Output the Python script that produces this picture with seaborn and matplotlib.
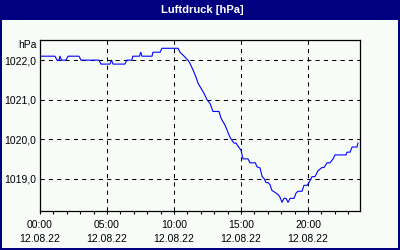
import matplotlib
matplotlib.use("Agg")
import matplotlib.pyplot as plt
from matplotlib.patches import Rectangle
import seaborn as sns
import pandas as pd

# time in hours since 00:00, pressure in hPa
hours = [0.00, 1.12, 1.27, 1.42, 1.49, 1.60, 1.94, 2.09, 2.91, 3.06, 4.40, 4.55,
         5.22, 5.34, 5.45, 6.33, 6.48, 6.85, 6.93, 7.42, 7.52, 7.60, 7.75, 8.36,
         8.43, 8.96, 9.10, 10.30, 10.45, 10.75, 11.04, 11.19, 11.42, 11.64, 11.79,
         12.01, 12.24, 12.46, 12.69, 12.91, 13.36, 13.51, 13.81, 13.96, 14.11,
         14.26, 14.48, 14.63, 14.78, 15.00, 15.15, 15.52, 15.67, 16.07, 16.19,
         16.42, 16.57, 16.72, 16.87, 17.01, 17.16, 17.31, 17.54, 17.76, 17.91,
         18.06, 18.21, 18.36, 18.51, 18.66, 18.96, 19.10, 19.25, 19.55, 19.70,
         19.93, 20.07, 20.30, 20.52, 20.75, 21.04, 21.19, 21.42, 21.64, 21.87,
         22.01, 22.84, 22.91, 23.14, 23.29, 23.66, 23.73]
pressure = [1022.1, 1022.1, 1022.0, 1022.0, 1022.1, 1022.0, 1022.0, 1022.1, 1022.1, 1022.0, 1022.0, 1021.9,
            1021.9, 1022.0, 1021.9, 1021.9, 1022.0, 1022.0, 1022.1, 1022.1, 1022.2, 1022.1, 1022.1, 1022.1,
            1022.2, 1022.2, 1022.3, 1022.3, 1022.2, 1022.1, 1022.0, 1021.92, 1021.75, 1021.57, 1021.42,
            1021.29, 1021.16, 1021.0, 1020.9, 1020.7, 1020.7, 1020.53, 1020.35, 1020.23, 1020.1,
            1020.0, 1019.9, 1019.9, 1019.82, 1019.72, 1019.5, 1019.5, 1019.4, 1019.4, 1019.3,
            1019.27, 1019.06, 1019.0, 1018.9, 1018.9, 1018.85, 1018.7, 1018.65, 1018.6, 1018.53,
            1018.4, 1018.5, 1018.5, 1018.4, 1018.5, 1018.5, 1018.63, 1018.68, 1018.68, 1018.83,
            1018.83, 1018.9, 1019.05, 1019.05, 1019.2, 1019.28, 1019.28, 1019.4, 1019.4, 1019.5,
            1019.6, 1019.6, 1019.67, 1019.67, 1019.8, 1019.8, 1019.9]

tick_hours = [0, 5, 10, 15, 20]
tick_labels = ["00:00\n12.08.22", "05:00\n12.08.22", "10:00\n12.08.22",
               "15:00\n12.08.22", "20:00\n12.08.22"]
y_ticks = [1019.0, 1020.0, 1021.0, 1022.0]
title = "Luftdruck [hPa]"
unit = "hPa"

n = min(len(hours), len(pressure))
df = pd.DataFrame({"h": hours[:n], "p": pressure[:n]})

navy = "#000080"
bg = "#f8fcf8"
plt.rcParams['font.family'] = ['Liberation Sans', 'DejaVu Sans']

fig = plt.figure(figsize=(4, 2.5), dpi=100, facecolor=bg)
ax = fig.add_axes([0.1, 0.156, 0.8, 0.684])
ax.set_facecolor(bg)

sns.lineplot(data=df, x="h", y="p", ax=ax, color="#0000ff", linewidth=0.8)

ax.set_xlim(0, 23.88)
ax.set_ylim(1018.18, 1022.51)

ax.set_xticks(tick_hours)
ax.set_xticklabels(tick_labels, fontsize=7.5, linespacing=1.45)
ax.set_xticks(range(0, 24), minor=True)
ax.set_yticks(y_ticks)
ax.set_yticklabels([f"{v:.1f}".replace(".", ",") for v in y_ticks], fontsize=7.5)
ax.tick_params(axis="x", which="both", direction="out", length=2.5, width=0.8,
               pad=4, colors="black")
ax.tick_params(axis="y", length=0, pad=3)
ax.set_xlabel("")
ax.set_ylabel("")

for h in tick_hours[1:]:
    ax.axvline(h, color="black", lw=0.75, dashes=(4, 4), zorder=1)
for v in y_ticks:
    ax.axhline(v, color="black", lw=0.75, dashes=(4, 4), zorder=1)

for s in ax.spines.values():
    s.set_color("black")
    s.set_linewidth(0.9)

fig.text(0.0925, 0.82, unit, ha="right", va="center", fontsize=7.5)

# title bar and frame
fig.patches.append(Rectangle((0, 230 / 250), 1, 20 / 250, transform=fig.transFigure,
                             facecolor=navy, edgecolor="none", zorder=0))
fig.patches.append(Rectangle((0, 0), 2 / 400, 1, transform=fig.transFigure,
                             facecolor=navy, edgecolor="none"))
fig.patches.append(Rectangle((398 / 400, 0), 2 / 400, 1, transform=fig.transFigure,
                             facecolor=navy, edgecolor="none"))
fig.patches.append(Rectangle((0, 0), 1, 2 / 250, transform=fig.transFigure,
                             facecolor=navy, edgecolor="none"))
fig.text(0.505, 1 - 10 / 250, title, ha="center", va="center", color="white",
         fontsize=8, fontweight="bold")

fig.savefig("out.png", dpi=100, facecolor=bg)
